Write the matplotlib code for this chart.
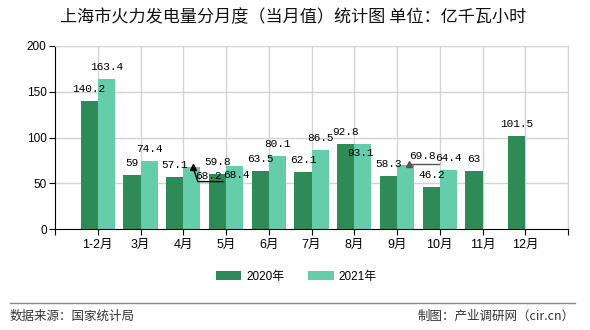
import numpy as np
import matplotlib
matplotlib.use('Agg')
from matplotlib import pyplot as plt
from matplotlib.lines import Line2D

plt.rcParams['font.family'] = ['Liberation Sans', 'Noto Sans CJK SC', 'DejaVu Sans']

months = ['1-2月', '3月', '4月', '5月', '6月', '7月', '8月', '9月', '10月', '11月', '12月']
v2020 = [140.2, 59, 57.1, 59.8, 63.5, 62.1, 92.8, 58.3, 46.2, 63, 101.5]
v2021 = [163.4, 74.4, 68.2, 68.4, 80.1, 86.5, 93.1, 69.8, 64.4, np.nan, np.nan]
yticks = [0, 50, 100, 150, 200]

c2020 = '#2e8b57'
c2021 = '#66cdaa'
grid_c = '#d3d3d3'

fig = plt.figure(figsize=(5.9, 3.3), dpi=100)
W, H = 590, 330
ax = fig.add_axes([55 / W, (H - 229) / H, (568 - 55) / W, (229 - 46) / H])

x = np.arange(len(months))
bw = 0.4
ax.bar(x - bw / 2, v2020, bw, color=c2020, label='2020年', zorder=2)
ax.bar(x + bw / 2, v2021, bw, color=c2021, label='2021年', zorder=2)

ax.set_xlim(-1, len(months))
ax.set_ylim(0, 200)
ax.set_yticks(yticks)
ax.set_xticks(np.arange(-1, len(months) + 1))
ax.set_xticklabels([''] + months + [''])
for xv in range(0, len(months) + 1):
    ax.axvline(xv, color=grid_c, lw=1, zorder=0)
for yv in yticks[1:]:
    ax.axhline(yv, color=grid_c, lw=1, zorder=0)

for s in ['top', 'right']:
    ax.spines[s].set_color(grid_c)
for s in ['left', 'bottom']:
    ax.spines[s].set_color('black')
ax.tick_params(axis='both', length=4, color='black', labelsize=8.5, labelcolor='black')
ax.tick_params(axis='x', pad=3, labelsize=9)
ax.tick_params(axis='y', pad=2)

# label offsets in pixels (dx, dy) relative to bar top, default is above
offsets = {
    (1, 2): (17, -9),
    (1, 3): (2, -9),
    (1, 6): (-2, -9),
    (1, 7): (17, 9),
}
lab_font = dict(family='Liberation Mono', size=8, color='black')

for k, vals in enumerate([v2020, v2021]):
    for i, v in enumerate(vals):
        if np.isnan(v):
            continue
        xb = i - bw / 2 + k * bw
        dx, dy = offsets.get((k, i), (0, 12))
        lbl = ('%g' % v)
        ax.annotate(lbl, (xb, v), xytext=(dx, dy), textcoords='offset pixels',
                    ha='center', va='center', zorder=5, **lab_font)


def leader(xb, v, pts, color):
    base = ax.transData.transform((xb, v))
    pix = np.array([[base[0] + px, base[1] + py] for px, py in pts])
    dat = ax.transData.inverted().transform(pix)
    ax.plot(dat[:, 0], dat[:, 1], color=color, lw=1, zorder=6, clip_on=False)
    ax.plot(dat[0, 0], dat[0, 1], marker='^', ms=4, color=color, zorder=6)


leader(2 + bw / 2, v2021[2], [(1, 0), (6, -15), (31, -15)], 'black')
leader(7 + bw / 2, v2021[7], [(3, 1), (33, 1)], '#555555')

fig.text(293 / W, 1 - 17 / H, '上海市火力发电量分月度（当月值）统计图 单位：亿千瓦小时',
         ha='center', va='center', fontsize=12.3, family=['Noto Sans CJK SC', 'DejaVu Sans'],
         color='#111111')

fig.legend(loc='center', bbox_to_anchor=(296 / W, 1 - 277 / H), ncol=2, frameon=False,
           fontsize=8.5, handlelength=2.2, handleheight=0.8, columnspacing=2.0, handletextpad=0.4)

fig.add_artist(Line2D([10 / W, 575 / W], [1 - 303 / H, 1 - 303 / H], color='#888888', lw=1,
                      transform=fig.transFigure))
fig.text(10 / W, 1 - 316 / H, '数据来源：国家统计局', ha='left', va='center', fontsize=9,
         family=['Noto Sans CJK SC', 'DejaVu Sans'], color='#333333')
fig.text(575 / W, 1 - 316 / H, '制图：产业调研网（cir.cn）', ha='right', va='center', fontsize=9,
         family=['Noto Sans CJK SC', 'DejaVu Sans'], color='#333333')

fig.savefig('out.png', dpi=100)
